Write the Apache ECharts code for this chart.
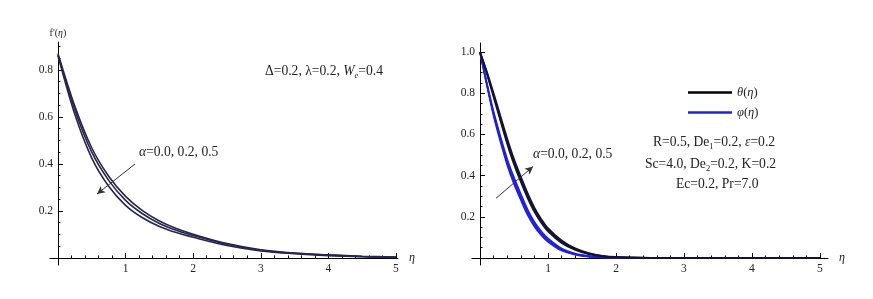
<!DOCTYPE html>
<html><head><meta charset="utf-8">
<script src="https://cdn.jsdelivr.net/npm/echarts@6/dist/echarts.min.js"></script>
<style>html,body{margin:0;padding:0;background:#fff}#c{width:873px;height:299px}</style>
</head><body><div id="c"></div>
<script>
// ---------- data ----------
const etaLeft   = [0, 0.25, 0.5, 0.75, 1, 1.25, 1.5, 1.75, 2, 2.5, 3, 3.5, 4, 4.5, 5];
const fAlpha00  = [0.870, 0.645, 0.468, 0.348, 0.262, 0.201, 0.157, 0.125, 0.101, 0.061, 0.035, 0.021, 0.013, 0.007, 0.004];
const fAlpha02  = [0.865, 0.630, 0.450, 0.330, 0.245, 0.188, 0.147, 0.118, 0.096, 0.058, 0.033, 0.020, 0.012, 0.006, 0.003];
const fAlpha05  = [0.860, 0.610, 0.425, 0.305, 0.224, 0.171, 0.134, 0.108, 0.088, 0.053, 0.030, 0.018, 0.010, 0.005, 0.002];

const etaRight  = [0, 0.1, 0.2, 0.3, 0.4, 0.5, 0.6, 0.7, 0.8, 0.9, 1.0, 1.2, 1.4, 1.6, 1.8, 2.0, 2.5, 3, 4, 5];
const thetaA05  = [1.0, 0.905, 0.800, 0.690, 0.580, 0.480, 0.395, 0.315, 0.245, 0.190, 0.145, 0.085, 0.047, 0.024, 0.011, 0.005, 0.001, 0, 0, 0];
const thetaA02  = [1.0, 0.900, 0.790, 0.678, 0.567, 0.467, 0.382, 0.303, 0.235, 0.181, 0.137, 0.079, 0.043, 0.021, 0.009, 0.004, 0.0008, 0, 0, 0];
const thetaA00  = [1.0, 0.895, 0.780, 0.666, 0.554, 0.454, 0.369, 0.291, 0.224, 0.171, 0.129, 0.073, 0.039, 0.019, 0.008, 0.003, 0.0005, 0, 0, 0];
const phiA05    = [1.0, 0.850, 0.710, 0.590, 0.480, 0.390, 0.310, 0.235, 0.175, 0.130, 0.095, 0.046, 0.021, 0.009, 0.004, 0.0015, 0.0002, 0, 0, 0];
const phiA02    = [1.0, 0.845, 0.700, 0.577, 0.466, 0.375, 0.296, 0.222, 0.164, 0.120, 0.087, 0.041, 0.018, 0.0075, 0.003, 0.001, 0, 0, 0, 0];
const phiA00    = [1.0, 0.840, 0.690, 0.565, 0.452, 0.360, 0.282, 0.209, 0.153, 0.111, 0.079, 0.036, 0.016, 0.006, 0.0025, 0.0008, 0, 0, 0, 0];

// tick values
const xMajorTicks = [1, 2, 3, 4, 5];
const xMinorTicks = [0.2, 0.4, 0.6, 0.8, 1.2, 1.4, 1.6, 1.8, 2.2, 2.4, 2.6, 2.8, 3.2, 3.4, 3.6, 3.8, 4.2, 4.4, 4.6, 4.8];
const yLeftMajor  = [0.2, 0.4, 0.6, 0.8];
const yLeftMinor  = [0.05, 0.1, 0.15, 0.25, 0.3, 0.35, 0.45, 0.5, 0.55, 0.65, 0.7, 0.75, 0.85, 0.9];
const yRightMajor = [0.2, 0.4, 0.6, 0.8, 1.0];
const yRightMinor = [0.05, 0.1, 0.15, 0.25, 0.3, 0.35, 0.45, 0.5, 0.55, 0.65, 0.7, 0.75, 0.85, 0.9, 0.95];

// annotation arrows (data coordinates: tail -> head)
const arrowLeft  = [[1.14, 0.40], [0.577, 0.272]];
const arrowRight = [[0.235, 0.29], [0.78, 0.444]];

// ---------- chart ----------
const serif = 'Liberation Serif';
const ink = '#222';
const chart = echarts.init(document.getElementById('c'));
const pairs = (xs, ys) => xs.map((x, i) => [x, ys[i]]);

function xAxesFor(gridIndex, min, max, yIdx) {
  return [
    { type: 'value', gridIndex, min, max, position: 'bottom',
      name: 'η', nameLocation: 'end', nameGap: 11,
      nameTextStyle: { fontFamily: serif, fontStyle: 'italic', fontSize: 12, color: ink },
      axisLine: { onZero: true, onZeroAxisIndex: yIdx, lineStyle: { color: '#000', width: 1 } },
      axisTick: { show: true, inside: true, length: 5, customValues: xMajorTicks, lineStyle: { color: '#000', width: 1 } },
      axisLabel: { customValues: xMajorTicks, fontFamily: serif, fontSize: 11.5, color: ink, margin: -2 },
      splitLine: { show: false } },
    { type: 'value', gridIndex, min, max, position: 'bottom',
      axisLine: { show: false, onZero: true, onZeroAxisIndex: yIdx },
      axisTick: { show: true, inside: true, length: 2.5, customValues: xMinorTicks, lineStyle: { color: '#000', width: 1 } },
      axisLabel: { show: false }, splitLine: { show: false } }
  ];
}
function yAxesFor(gridIndex, min, max, xIdx, major, minor, name) {
  return [
    { type: 'value', gridIndex, min, max, position: 'left',
      name: name, nameLocation: 'end', nameGap: 4,
      nameTextStyle: { fontFamily: serif, fontSize: 10, color: ink,
        rich: { i: { fontFamily: serif, fontStyle: 'italic', fontSize: 10, color: ink } } },
      axisLine: { onZero: true, onZeroAxisIndex: xIdx, lineStyle: { color: '#000', width: 1 } },
      axisTick: { show: true, inside: true, length: 5, customValues: major, lineStyle: { color: '#000', width: 1 } },
      axisLabel: { customValues: major, fontFamily: serif, fontSize: 11.5, color: ink, margin: -3,
        formatter: v => Number(v).toFixed(1) },
      splitLine: { show: false } },
    { type: 'value', gridIndex, min, max, position: 'left',
      axisLine: { show: false, onZero: true, onZeroAxisIndex: xIdx },
      axisTick: { show: true, inside: true, length: 2.5, customValues: minor, lineStyle: { color: '#000', width: 1 } },
      axisLabel: { show: false }, splitLine: { show: false } }
  ];
}

const navy = '#26264f';
const dark = '#141430';
const blue = '#2020d8';
const lineSeries = (name, xs, ys, color, w, xi, yi, extra) => Object.assign({
  type: 'line', name, data: pairs(xs, ys), xAxisIndex: xi, yAxisIndex: yi,
  showSymbol: false, symbol: 'none', smooth: 0.3,
  lineStyle: { color, width: w }, itemStyle: { color }, silent: true, z: 3
}, extra || {});

const arrowMark = (arr) => ({
  silent: true, symbol: ['none', 'arrow'], symbolSize: [6, 8], animation: false,
  label: { show: false }, lineStyle: { color: '#333', width: 1, type: 'solid' },
  data: [[{ coord: arr[0] }, { coord: arr[1] }]]
});

const FS = 13.6;
const sub = { fontFamily: serif, fontSize: 8.5, lineHeight: 8, verticalAlign: 'bottom', color: ink };
const subI = Object.assign({}, sub, { fontStyle: 'italic' });
const txt = { fontFamily: serif, fontSize: FS, lineHeight: 17, color: ink };
const txtI = Object.assign({}, txt, { fontStyle: 'italic' });
const titleText = (text, left, top) => ({
  text, left, top, padding: 0,
  textStyle: { fontFamily: serif, fontSize: FS, fontWeight: 'normal', color: ink,
    rich: { t: txt, i: txtI, s: sub, si: subI } }
});

chart.setOption({
  animation: false,
  backgroundColor: '#fff',
  grid: [
    { left: 50, right: 475, top: 42, bottom: 34 },
    { left: 472, right: 45, top: 43, bottom: 34 }
  ],
  xAxis: [].concat(xAxesFor(0, -0.118, 5.03, 0), xAxesFor(1, -0.118, 5.118, 2)),
  yAxis: [].concat(
    yAxesFor(0, -0.03, 0.919, 0, yLeftMajor, yLeftMinor, "f'({i|η})"),
    yAxesFor(1, -0.034, 1.044, 2, yRightMajor, yRightMinor, '')
  ),
  title: [
    titleText('{t|Δ=0.2, λ=0.2, }{i|W}{si|e}{t|=0.4}', 265, 63),
    titleText('{i|α}{t|=0.0, 0.2, 0.5}', 139, 144),
    titleText('{i|α}{t|=0.0, 0.2, 0.5}', 533, 146),
    titleText('{t|R=0.5, De}{s|1}{t|=0.2, }{i|ε}{t|=0.2}', 653, 134),
    titleText('{t|Sc=4.0, De}{s|2}{t|=0.2, K=0.2}', 645, 156),
    titleText('{t|Ec=0.2, Pr=7.0}', 676, 176)
  ],
  legend: {
    orient: 'vertical', left: 683, top: 81, itemWidth: 44, itemHeight: 2.5, itemGap: 7,
    selectedMode: false,
    data: [
      { name: 'θ(η)', icon: 'rect', itemStyle: { color: '#000' } },
      { name: 'φ(η)', icon: 'rect', itemStyle: { color: blue } }
    ],
    formatter: n => n === 'θ(η)' ? '{i|θ}({i|η})' : '{i|φ}({i|η})',
    textStyle: { fontFamily: serif, fontSize: 12.5, color: ink,
      rich: { i: { fontFamily: serif, fontStyle: 'italic', fontSize: 12.5, color: ink } } }
  },
  series: [
    lineSeries('α=0.0', etaLeft, fAlpha00, navy, 1.6, 0, 0),
    lineSeries('α=0.2', etaLeft, fAlpha02, navy, 1.6, 0, 0, { markLine: arrowMark(arrowLeft) }),
    lineSeries('α=0.5', etaLeft, fAlpha05, navy, 1.6, 0, 0),
    lineSeries('φ(η)', etaRight, phiA00, blue, 1.7, 2, 2),
    lineSeries('φ(η)', etaRight, phiA02, blue, 1.7, 2, 2),
    lineSeries('φ(η)', etaRight, phiA05, blue, 1.7, 2, 2),
    lineSeries('θ(η)', etaRight, thetaA00, dark, 1.7, 2, 2),
    lineSeries('θ(η)', etaRight, thetaA02, dark, 1.7, 2, 2),
    lineSeries('θ(η)', etaRight, thetaA05, dark, 1.7, 2, 2, { markLine: arrowMark(arrowRight) })
  ]
});
</script></body></html>
